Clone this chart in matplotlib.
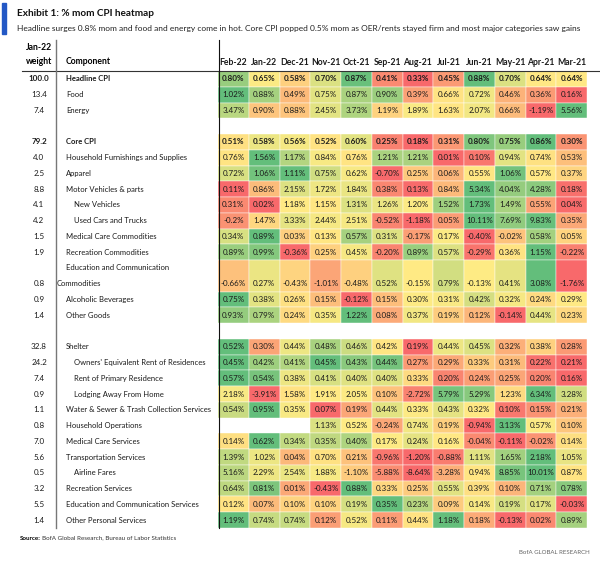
import numpy as np
import matplotlib.pyplot as plt
from matplotlib.colors import LinearSegmentedColormap
from matplotlib.lines import Line2D
from matplotlib.patches import Rectangle
from matplotlib.transforms import blended_transform_factory

plt.rcParams['font.family'] = ['Lato', 'DejaVu Sans']

months = ['Feb-22', 'Jan-22', 'Dec-21', 'Nov-21', 'Oct-21', 'Sep-21',
          'Aug-21', 'Jul-21', 'Jun-21', 'May-21', 'Apr-21', 'Mar-21']

# block 1: headline
top_names = ['Headline CPI', 'Food', 'Energy']
top_weights = ['100.0', '13.4', '7.4']
top_values = [
    [0.80, 0.65, 0.58, 0.70, 0.87, 0.41, 0.33, 0.45, 0.88, 0.70, 0.64, 0.64],
    [1.02, 0.88, 0.49, 0.75, 0.87, 0.90, 0.39, 0.66, 0.72, 0.46, 0.36, 0.16],
    [3.47, 0.90, 0.88, 2.45, 3.73, 1.19, 1.89, 1.63, 2.07, 0.66, -1.19, 5.56],
]

# block 2: core goods
goods_names = ['Core CPI', 'Household Furnishings and Supplies', 'Apparel',
               'Motor Vehicles & parts', 'New Vehicles', 'Used Cars and Trucks',
               'Medical Care Commodities', 'Recreation Commodities',
               'Education and Communication\nCommodities',
               'Alcoholic Beverages', 'Other Goods']
goods_weights = ['79.2', '4.0', '2.5', '8.8', '4.1', '4.2', '1.5', '1.9', '0.8', '0.9', '1.4']
goods_values = [
    [0.51, 0.58, 0.56, 0.52, 0.60, 0.25, 0.18, 0.31, 0.80, 0.75, 0.86, 0.30],
    [0.76, 1.56, 1.17, 0.84, 0.76, 1.21, 1.21, 0.01, 0.10, 0.94, 0.74, 0.53],
    [0.72, 1.06, 1.11, 0.75, 0.62, -0.70, 0.25, 0.06, 0.55, 1.06, 0.57, 0.37],
    [0.11, 0.86, 2.15, 1.72, 1.84, 0.38, 0.13, 0.84, 5.34, 4.04, 4.28, 0.18],
    [0.31, 0.02, 1.18, 1.15, 1.31, 1.26, 1.20, 1.52, 1.73, 1.49, 0.55, 0.04],
    [-0.2, 1.47, 3.33, 2.44, 2.51, -0.52, -1.18, 0.05, 10.11, 7.69, 9.83, 0.35],
    [0.34, 0.89, 0.03, 0.13, 0.57, 0.31, -0.17, 0.17, -0.40, -0.02, 0.58, 0.05],
    [0.89, 0.99, -0.36, 0.25, 0.45, -0.20, 0.89, 0.57, -0.29, 0.36, 1.15, -0.22],
    [-0.66, 0.27, -0.43, -1.01, -0.48, 0.52, -0.15, 0.79, -0.13, 0.41, 3.08, -1.76],
    [0.75, 0.38, 0.26, 0.15, -0.12, 0.15, 0.30, 0.31, 0.42, 0.32, 0.24, 0.29],
    [0.93, 0.79, 0.24, 0.35, 1.22, 0.08, 0.37, 0.19, 0.12, -0.14, 0.44, 0.23],
]

# block 3: services
serv_names = ['Shelter', "Owners' Equivalent Rent of Residences", 'Rent of Primary Residence',
              'Lodging Away From Home', 'Water & Sewer & Trash Collection Services',
              'Household Operations', 'Medical Care Services', 'Transportation Services',
              'Airline Fares', 'Recreation Services', 'Education and Communication Services',
              'Other Personal Services']
serv_weights = ['32.8', '24.2', '7.4', '0.9', '1.1', '0.8', '7.0', '5.6', '0.5', '3.2', '5.5', '1.4']
serv_values = [
    [0.52, 0.30, 0.44, 0.48, 0.46, 0.42, 0.19, 0.44, 0.45, 0.32, 0.38, 0.28],
    [0.45, 0.42, 0.41, 0.45, 0.43, 0.44, 0.27, 0.29, 0.33, 0.31, 0.22, 0.21],
    [0.57, 0.54, 0.38, 0.41, 0.40, 0.40, 0.33, 0.20, 0.24, 0.25, 0.20, 0.16],
    [2.18, -3.91, 1.58, 1.91, 2.05, 0.10, -2.72, 5.79, 5.29, 1.23, 6.34, 3.28],
    [0.54, 0.95, 0.35, 0.07, 0.19, 0.44, 0.33, 0.43, 0.32, 0.10, 0.15, 0.21],
    [np.nan, np.nan, np.nan, 1.13, 0.52, -0.24, 0.74, 0.19, -0.94, 3.13, 0.57, 0.10],
    [0.14, 0.62, 0.34, 0.35, 0.40, 0.17, 0.24, 0.16, -0.04, -0.11, -0.02, 0.14],
    [1.39, 1.02, 0.04, 0.70, 0.21, -0.96, -1.20, -0.88, 1.11, 1.65, 2.18, 1.05],
    [5.16, 2.29, 2.54, 1.88, -1.10, -5.88, -8.64, -3.28, 0.94, 8.85, 10.01, 0.87],
    [0.64, 0.81, 0.01, -0.43, 0.88, 0.33, 0.25, 0.55, 0.39, 0.10, 0.71, 0.78],
    [0.12, 0.07, 0.10, 0.10, 0.19, 0.35, 0.23, 0.09, 0.14, 0.19, 0.17, -0.03],
    [1.19, 0.74, 0.74, 0.12, 0.52, 0.11, 0.44, 1.18, 0.18, -0.13, 0.02, 0.89],
]

bold_rows = ['Headline CPI', 'Core CPI']
indented = ['New Vehicles', 'Used Cars and Trucks', "Owners' Equivalent Rent of Residences",
            'Rent of Primary Residence', 'Lodging Away From Home', 'Airline Fares']
text_override = {('Used Cars and Trucks', 0): '-0.2%'}

W, H = 600, 565
fig = plt.figure(figsize=(W / 100, H / 100), dpi=100)
fig.patch.set_facecolor('white')


def fx(px):
    return px / W


def fy(py):
    return 1 - py / H


# excel style 3 colour scale, per row (min / median / max)
cmap = LinearSegmentedColormap.from_list('ryg', ['#f8696b', '#ffeb84', '#63be7b'])


def row_colors(vals):
    v = np.array(vals, dtype=float)
    lo, mid, hi = np.nanmin(v), np.nanmedian(v), np.nanmax(v)
    t = np.where(v <= mid, 0.5 * (v - lo) / max(mid - lo, 1e-9),
                 0.5 + 0.5 * (v - mid) / max(hi - mid, 1e-9))
    return [cmap(x) for x in t]


# layout rows: one blank unit between blocks, two units for two-line labels
blocks = [(top_names, top_weights, top_values),
          (goods_names, goods_weights, goods_values),
          (serv_names, serv_weights, serv_values)]
rows = []
unit = 0
for b, (names, wts, vals) in enumerate(blocks):
    if b > 0:
        unit += 1
    for n, w, v in zip(names, wts, vals):
        span = 2 if '\n' in n else 1
        rows.append((n, w, v, unit, span))
        unit += span
total_units = unit

tab_top, tab_bot = 71, 528
ax = fig.add_axes([fx(218), fy(tab_bot), fx(587) - fx(218), (tab_bot - tab_top) / H])
ax.set_xlim(0, len(months))
ax.set_ylim(total_units, 0)
ax.axis('off')

lbl = blended_transform_factory(fig.transFigure, ax.transData)
cols = np.arange(len(months))
fs = 5.8
fs_lab = 5.5

for name, wt, vals, top, span in rows:
    colors = row_colors(vals)
    ok = ~np.isnan(np.array(vals, dtype=float))
    ax.barh(top + span / 2, 1, left=cols[ok], height=span, align='center',
            color=[c for c, k in zip(colors, ok) if k], edgecolor='white', linewidth=0.3)
    bold = 'bold' if name in bold_rows else 'normal'
    ty = top + span - 0.5
    for j, v in enumerate(vals):
        if np.isnan(v):
            continue
        s = text_override.get((name, j), f'{v:.2f}%')
        ax.text(j + 0.5, ty, s, ha='center', va='center', fontsize=fs,
                fontweight=bold, color='#1a1a1a')
    # weight + component
    ax.text(fx(39), ty, wt, transform=lbl, ha='center', va='center', fontsize=fs,
            fontweight=bold, color='#1a1a1a')
    if '\n' in name:
        first, second = name.split('\n')
        ax.text(fx(66), top + 0.5, first, transform=lbl, ha='left', va='center',
                fontsize=fs_lab, color='#1a1a1a')
        ax.text(fx(57), top + 1.5, second, transform=lbl, ha='left', va='center',
                fontsize=fs_lab, color='#1a1a1a')
    else:
        x0 = 74 if name in indented else 66
        ax.text(fx(x0), ty, name, transform=lbl, ha='left', va='center', fontsize=fs_lab,
                fontweight=bold, color='#1a1a1a')

# header
for j, m in enumerate(months):
    ax.text(j + 0.5, -0.55, m, ha='center', va='center', fontsize=6.2,
            fontweight='bold', color='#1a1a1a')
fig.text(fx(39), fy(47), 'Jan-22', ha='center', va='center', fontsize=6.2, fontweight='bold')
fig.text(fx(39), fy(62), 'weight', ha='center', va='center', fontsize=6.2, fontweight='bold')
fig.text(fx(66), fy(62), 'Component', ha='left', va='center', fontsize=6.2, fontweight='bold')

fig.add_artist(Line2D([fx(22), fx(600)], [fy(70.5), fy(70.5)], color='#333333', lw=0.8))
fig.add_artist(Line2D([fx(56), fx(56)], [fy(40), fy(528)], color='#777777', lw=1.0))
fig.add_artist(Line2D([fx(219), fx(219)], [fy(40), fy(528)], color='#111111', lw=0.8))

# title block
fig.add_artist(Rectangle((fx(2), fy(34)), fx(4), (34 - 3) / H, color='#2358c5',
                         transform=fig.transFigure))
fig.text(fx(17), fy(14), 'Exhibit 1: % mom CPI heatmap', ha='left', va='center',
         fontsize=7.2, fontweight='bold', color='#111111')
fig.text(fx(17), fy(28), 'Headline surges 0.8% mom and food and energy come in hot. Core CPI popped '
         '0.5% mom as OER/rents stayed firm and most major categories saw gains',
         ha='left', va='center', fontsize=6.0, color='#222222')

# footer
fig.text(fx(20), fy(538), 'Source:', ha='left', va='center', fontsize=4.5, fontweight='bold')
fig.text(fx(42), fy(538), 'BofA Global Research, Bureau of Labor Statistics', ha='left',
         va='center', fontsize=4.5, color='#333333')
fig.text(fx(590), fy(553), 'BofA GLOBAL RESEARCH', ha='right', va='center', fontsize=4.4,
         color='#666666')

plt.savefig('out.png', dpi=100, facecolor='white')
